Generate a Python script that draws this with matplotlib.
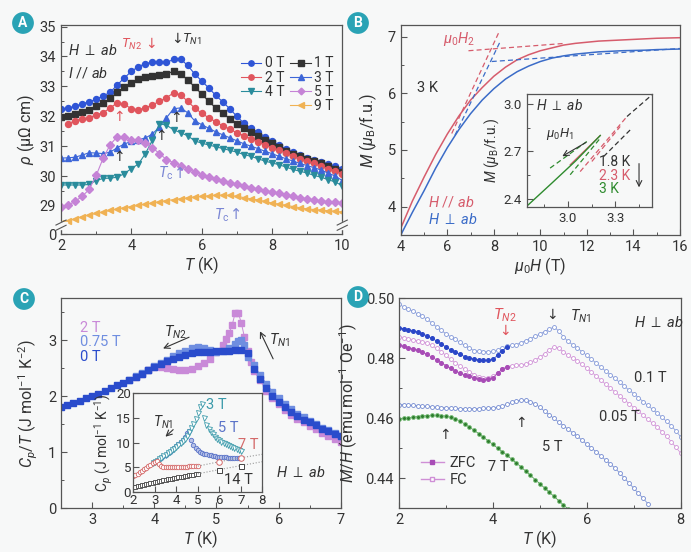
import matplotlib
matplotlib.use("Agg")
import matplotlib.pyplot as plt
from matplotlib.lines import Line2D

plt.rcParams['font.family'] = ['Roboto', 'DejaVu Sans']
plt.rcParams['mathtext.fontset'] = 'custom'
plt.rcParams['mathtext.rm'] = 'Roboto'
plt.rcParams['mathtext.it'] = 'Roboto:italic'
plt.rcParams['mathtext.bf'] = 'Roboto:bold'
plt.rcParams['axes.unicode_minus'] = False

# ---------------- Panel A data ----------------
TA = [2.0, 2.2, 2.4, 2.6, 2.8, 3.0, 3.2, 3.4, 3.6, 3.8, 4.0, 4.2, 4.4, 4.6, 4.8, 5.0, 5.2, 5.4, 5.6, 5.8,
      6.0, 6.2, 6.4, 6.6, 6.8, 7.0, 7.2, 7.4, 7.6, 7.8, 8.0, 8.2, 8.4, 8.6, 8.8, 9.0, 9.2, 9.4, 9.6, 9.8, 10.0]
rho_0T = [32.24, 32.28, 32.33, 32.42, 32.48, 32.57, 32.68, 32.80, 33.05, 33.28, 33.50, 33.66, 33.76, 33.81,
          33.80, 33.80, 33.90, 33.92, 33.70, 33.42, 33.18, 32.95, 32.70, 32.48, 32.25, 32.00, 31.77, 31.60,
          31.47, 31.32, 31.18, 31.04, 30.90, 30.80, 30.70, 30.62, 30.55, 30.48, 30.40, 30.32, 30.25]
rho_1T = [31.97, 32.00, 32.06, 32.14, 32.22, 32.33, 32.45, 32.60, 32.80, 32.98, 33.12, 33.24, 33.30, 33.33,
          33.37, 33.42, 33.50, 33.42, 33.22, 32.98, 32.75, 32.50, 32.28, 32.10, 31.92, 31.75, 31.60, 31.47,
          31.35, 31.22, 31.10, 30.98, 30.85, 30.75, 30.66, 30.58, 30.50, 30.42, 30.34, 30.25, 30.12]
rho_2T = [31.75, 31.85, 31.92, 31.95, 32.05, 32.12, 32.28, 32.45, 32.40, 32.25, 32.22, 32.28, 32.38, 32.50,
          32.62, 32.78, 32.72, 32.50, 32.28, 32.10, 31.95, 31.82, 31.68, 31.57, 31.45, 31.35, 31.25, 31.15,
          31.05, 30.95, 30.86, 30.78, 30.68, 30.58, 30.50, 30.42, 30.33, 30.25, 30.18, 30.08]
rho_3T = [30.60, 30.61, 30.63, 30.70, 30.78, 30.77, 30.75, 30.80, 30.95, 31.07, 31.16, 31.22, 31.27, 31.41,
          31.64, 31.95, 32.25, 32.28, 32.12, 31.85, 31.72, 31.60, 31.48, 31.38, 31.28, 31.18, 31.08, 31.00,
          30.92, 30.83, 30.75, 30.66, 30.58, 30.50, 30.42, 30.35, 30.28, 30.20, 30.10, 30.00, 29.85]
rho_4T = [29.70, 29.70, 29.70, 29.70, 29.72, 29.85, 29.92, 29.93, 29.96, 30.08, 30.25, 30.40, 30.75, 31.20,
          31.75, 31.70, 31.55, 31.45, 31.35, 31.18, 31.10, 31.04, 30.98, 30.92, 30.86, 30.80, 30.72, 30.66,
          30.58, 30.50, 30.44, 30.38, 30.30, 30.22, 30.16, 30.10, 30.02, 29.96, 29.88, 29.80, 29.68]
rho_5T = [28.97, 29.03, 29.15, 29.32, 29.55, 30.02, 30.60, 31.05, 31.32, 31.30, 31.20, 31.19, 31.10, 30.95,
          30.75, 30.55, 30.45, 30.35, 30.25, 30.14, 30.05, 29.98, 29.90, 29.84, 29.78, 29.72, 29.66, 29.60,
          29.55, 29.50, 29.45, 29.42, 29.38, 29.33, 29.28, 29.24, 29.20, 29.17, 29.14, 29.12, 29.10]
rho_9T = [28.42, 28.50, 28.57, 28.64, 28.70, 28.75, 28.80, 28.85, 28.90, 28.94, 28.98, 29.02, 29.06, 29.10,
          29.14, 29.18, 29.21, 29.24, 29.27, 29.30, 29.32, 29.34, 29.36, 29.36, 29.35, 29.32, 29.28, 29.24,
          29.20, 29.15, 29.10, 29.06, 29.02, 28.98, 28.94, 28.90, 28.88, 28.86, 28.84, 28.82, 28.80]
A_labels = ['0 T', '1 T', '2 T', '3 T', '4 T', '5 T', '9 T']
A_yticklabels = ['0', '29', '30', '31', '32', '33', '34', '35']

# ---------------- Panel B data ----------------
HB = [4.0, 4.5, 5.0, 5.5, 6.0, 6.5, 7.0, 7.5, 8.0, 8.5, 9.0, 9.5, 10.0, 10.5, 11.0, 11.5, 12.0, 12.5,
      13.0, 13.5, 14.0, 14.5, 15.0, 15.5, 16.0]
M_par = [3.62, 4.10, 4.52, 4.92, 5.28, 5.60, 5.88, 6.10, 6.30, 6.46, 6.59, 6.68, 6.75, 6.80, 6.85, 6.88,
         6.90, 6.92, 6.93, 6.94, 6.95, 6.96, 6.97, 6.975, 6.98]
M_perp = [3.50, 3.90, 4.28, 4.68, 5.04, 5.36, 5.64, 5.88, 6.08, 6.25, 6.38, 6.48, 6.56, 6.62, 6.66, 6.69,
          6.71, 6.73, 6.74, 6.75, 6.755, 6.76, 6.77, 6.775, 6.78]
# guide lines (dashed)
par_steep_H = [6.19, 8.2];  par_steep_M = [5.29, 7.06]
par_flat_H = [6.91, 11.06]; par_flat_M = [6.75, 6.88]
perp_steep_H = [6.33, 8.27]; perp_steep_M = [5.26, 6.91]
perp_flat_H = [7.91, 16.0];  perp_flat_M = [6.56, 6.79]
# inset hysteresis segments
k18_a_H = [3.374, 3.532]; k18_a_M = [2.92, 3.057]
k18_b_H = [3.226, 3.395]; k18_b_M = [2.667, 2.836]
k23_a_H = [3.015, 3.205]; k23_a_M = [2.615, 2.80]
k23_b_H = [3.078, 3.374]; k23_b_M = [2.572, 2.92]
k23_c_H = [3.152, 3.331]; k23_c_M = [2.636, 2.857]
k3_s_H = [2.75, 2.90, 3.05, 3.205]; k3_s_M = [2.362, 2.50, 2.64, 2.80]
k3_a_H = [2.888, 3.12]; k3_a_M = [2.594, 2.762]
k3_b_H = [3.015, 3.205]; k3_b_M = [2.552, 2.783]

# ---------------- Panel C data ----------------
TC0 = [2.5, 2.6, 2.7, 2.8, 2.9, 3.0, 3.1, 3.2, 3.3, 3.4, 3.5, 3.6, 3.7, 3.8, 3.9, 4.0, 4.1, 4.2, 4.3, 4.4,
       4.5, 4.6, 4.7, 4.8, 4.9, 5.0, 5.1, 5.2, 5.3, 5.4, 5.5, 5.6, 5.7, 5.8, 5.9, 6.0, 6.1, 6.2, 6.3, 6.4,
       6.5, 6.6, 6.7, 6.8, 6.9, 7.0]
C_0T = [1.80, 1.84, 1.88, 1.92, 1.96, 2.00, 2.04, 2.09, 2.14, 2.19, 2.24, 2.29, 2.34, 2.40, 2.46, 2.52,
        2.57, 2.62, 2.66, 2.70, 2.73, 2.76, 2.78, 2.79, 2.79, 2.80, 2.80, 2.81, 2.82, 2.83, 2.76, 2.48,
        2.30, 2.15, 2.01, 1.90, 1.80, 1.72, 1.65, 1.58, 1.53, 1.48, 1.42, 1.37, 1.32, 1.28]
TC1 = [3.6, 3.7, 3.8, 3.9, 4.0, 4.1, 4.2, 4.3, 4.4, 4.5, 4.6, 4.7, 4.8, 4.9, 5.0, 5.1, 5.2, 5.3, 5.35,
       5.4, 5.45, 5.5, 5.6, 5.7, 5.8, 5.9, 6.0, 6.1, 6.2, 6.3, 6.4, 6.5, 6.6, 6.7, 6.8, 6.9, 7.0]
C_075T = [2.29, 2.35, 2.41, 2.47, 2.53, 2.59, 2.65, 2.71, 2.76, 2.81, 2.85, 2.87, 2.86, 2.82, 2.79, 2.80,
          2.85, 2.93, 2.98, 3.00, 2.92, 2.70, 2.55, 2.38, 2.22, 2.08, 1.96, 1.86, 1.77, 1.69, 1.62, 1.56,
          1.50, 1.44, 1.39, 1.34, 1.29]
TC2 = [3.7, 3.8, 3.9, 4.0, 4.1, 4.2, 4.3, 4.4, 4.5, 4.6, 4.7, 4.8, 4.9, 5.0, 5.1, 5.15, 5.2, 5.25, 5.3,
       5.35, 5.4, 5.45, 5.5, 5.55, 5.6, 5.7, 5.8, 5.9, 6.0, 6.1, 6.2, 6.3, 6.4, 6.5, 6.6, 6.7, 6.8, 6.9, 7.0]
C_2T = [2.34, 2.40, 2.46, 2.52, 2.52, 2.50, 2.48, 2.47, 2.47, 2.49, 2.53, 2.59, 2.67, 2.78, 2.92, 3.02,
        3.12, 3.26, 3.48, 3.49, 3.30, 3.05, 2.80, 2.60, 2.45, 2.28, 2.10, 1.97, 1.86, 1.76, 1.67, 1.60,
        1.53, 1.47, 1.41, 1.35, 1.29, 1.23, 1.18]
# inset C
TI = [2.0, 2.1, 2.2, 2.3, 2.4, 2.5, 2.6, 2.7, 2.8, 2.9, 3.0, 3.1, 3.2, 3.3, 3.4, 3.5, 3.6, 3.7, 3.8, 3.9,
      4.0, 4.1, 4.2, 4.3, 4.4, 4.5, 4.6, 4.7, 4.8, 4.9, 5.0, 5.1, 5.2, 5.3, 5.4, 5.5, 5.6, 5.7, 5.8, 5.9,
      6.0, 6.1, 6.2, 6.3, 6.4, 6.5, 6.6, 6.7, 6.8, 6.9, 7.0]
Cp_3T = [5.8, 6.0, 6.3, 6.6, 6.9, 7.2, 7.5, 7.8, 8.1, 8.4, 8.7, 9.0, 9.4, 9.8, 10.3, 10.8, 11.4, 12.1,
         12.9, 13.8, 14.8, 16.0, 17.3, 17.9, 15.0, 13.6, 12.8, 12.2, 11.7, 11.2, 10.8, 10.5, 10.2, 9.9,
         9.7, 9.5, 9.3, 9.1, 8.9, 8.7, 8.5, 8.3]
Cp_5T = [5.8, 6.0, 6.3, 6.6, 6.9, 7.2, 7.5, 7.8, 8.1, 8.4, 8.8, 9.2, 9.6, 10.1, 10.6, 11.2, 11.9, 12.4,
         10.5, 9.4, 8.8, 8.4, 8.1, 7.9, 7.7, 7.6, 7.5, 7.4, 7.3, 7.2, 7.15, 7.1, 7.05, 7.0, 7.0, 6.95,
         6.95, 6.9, 6.9, 6.9, 6.9, 6.9]
Cp_7T = [3.1, 3.4, 3.7, 4.0, 4.3, 4.6, 4.9, 5.2, 5.5, 5.8, 6.1, 6.3, 5.6, 5.3, 5.1, 5.0, 5.0, 5.0, 5.0,
         5.0, 5.0, 5.05, 5.05, 5.1, 5.1, 5.1, 5.15, 5.15, 5.2, 5.2, 5.2]
Cp_14T = [0.90, 1.00, 1.10, 1.20, 1.30, 1.40, 1.50, 1.60, 1.70, 1.80, 1.90, 2.00, 2.10, 2.20, 2.30, 2.40,
          2.50, 2.60, 2.68, 2.76, 2.84, 2.92, 3.00, 3.08, 3.16, 3.24, 3.32, 3.40, 3.48, 3.56, 3.64]
T_sparse = [5.0, 6.0, 7.0, 8.0]
Cp_7T_sparse = [5.2, 6.1, 6.9, 7.6]
Cp_14T_sparse = [3.64, 4.5, 5.3, 6.1]

# ---------------- Panel D data ----------------
TD = [2.0, 2.1, 2.2, 2.3, 2.4, 2.5, 2.6, 2.7, 2.8, 2.9, 3.0, 3.1, 3.2, 3.3, 3.4, 3.5, 3.6, 3.7, 3.8, 3.9,
      4.0, 4.1, 4.2, 4.3, 4.4, 4.5, 4.6, 4.7, 4.8, 4.9, 5.0, 5.1, 5.2, 5.3, 5.4, 5.5, 5.6, 5.7, 5.8, 5.9,
      6.0, 6.1, 6.2, 6.3, 6.4, 6.5, 6.6, 6.7, 6.8, 6.9, 7.0, 7.1, 7.2, 7.3, 7.4, 7.5, 7.6, 7.7, 7.8, 7.9, 8.0]
fc_01 = [0.4980, 0.4972, 0.4965, 0.4957, 0.4948, 0.4940, 0.4930, 0.4918, 0.4905, 0.4893,
         0.4882, 0.4872, 0.4863, 0.4853, 0.4843, 0.4833, 0.4826, 0.4823, 0.4822, 0.4822,
         0.4823, 0.4827, 0.4835, 0.4840, 0.4843, 0.4846, 0.4852, 0.4859, 0.4866, 0.4873,
         0.4881, 0.4889, 0.4898, 0.4904, 0.4892, 0.4872, 0.4857, 0.4845, 0.4834, 0.4822,
         0.4810, 0.4797, 0.4784, 0.4771, 0.4758, 0.4746, 0.4733, 0.4720, 0.4707, 0.4694,
         0.4682, 0.4669, 0.4656, 0.4643, 0.4630, 0.4617, 0.4604, 0.4590, 0.4575, 0.4558, 0.4538]
zfc_01 = [0.4902, 0.4899, 0.4896, 0.4892, 0.4888, 0.4882, 0.4875, 0.4867, 0.4858, 0.4848,
          0.4838, 0.4828, 0.4820, 0.4813, 0.4806, 0.4801, 0.4797, 0.4795, 0.4793, 0.4793,
          0.4797, 0.4810, 0.4826, 0.4837]
fc_005 = [0.4872, 0.4869, 0.4866, 0.4862, 0.4858, 0.4856, 0.4851, 0.4843, 0.4833, 0.4822,
          0.4810, 0.4797, 0.4785, 0.4774, 0.4764, 0.4755, 0.4746, 0.4739, 0.4736, 0.4736,
          0.4740, 0.4752, 0.4764, 0.4772, 0.4776, 0.4777, 0.4778, 0.4780, 0.4787, 0.4795,
          0.4804, 0.4815, 0.4828, 0.4838, 0.4834, 0.4822, 0.4810, 0.4800, 0.4792, 0.4780,
          0.4767, 0.4754, 0.4741, 0.4728, 0.4714, 0.4701, 0.4688, 0.4675, 0.4662, 0.4649,
          0.4636, 0.4623, 0.4610, 0.4597, 0.4584, 0.4571, 0.4556, 0.4540, 0.4522, 0.4503, 0.4484]
zfc_005 = [0.4844, 0.4840, 0.4836, 0.4832, 0.4827, 0.4821, 0.4813, 0.4804, 0.4795, 0.4786,
           0.4776, 0.4767, 0.4758, 0.4751, 0.4745, 0.4740, 0.4735, 0.4731, 0.4729, 0.4730,
           0.4735, 0.4750, 0.4764, 0.4771]
m_5T = [0.4646, 0.4645, 0.4644, 0.4643, 0.4642, 0.4641, 0.4640, 0.4639, 0.4637, 0.4636,
        0.4635, 0.4634, 0.4633, 0.4632, 0.4632, 0.4632, 0.4632, 0.4632, 0.4633, 0.4634,
        0.4635, 0.4637, 0.4641, 0.4647, 0.4653, 0.4658, 0.4661, 0.4660, 0.4656, 0.4648,
        0.4637, 0.4624, 0.4612, 0.4600, 0.4588, 0.4576, 0.4564, 0.4552, 0.4540, 0.4527,
        0.4514, 0.4501, 0.4488, 0.4475, 0.4461, 0.4448, 0.4434, 0.4418, 0.4401, 0.4384,
        0.4367, 0.4350, 0.4333, 0.4316]
m_7T = [0.4597, 0.4600, 0.4602, 0.4604, 0.4606, 0.4608, 0.4609, 0.4610, 0.4610, 0.4609,
        0.4607, 0.4604, 0.4599, 0.4591, 0.4581, 0.4571, 0.4560, 0.4549, 0.4537, 0.4525,
        0.4513, 0.4501, 0.4489, 0.4477, 0.4464, 0.4451, 0.4438, 0.4424, 0.4410, 0.4396,
        0.4382, 0.4368, 0.4354, 0.4340, 0.4326, 0.4312, 0.4298]

# ---------------- styling helpers ----------------
BG = '#f7f8f8'
SP = '#555555'
TXT = '#333333'
ARW = 'DejaVu Sans'


def style(ax, fs=10.5):
    for s in ax.spines.values():
        s.set_color(SP)
        s.set_linewidth(0.9)
    ax.tick_params(which='major', direction='in', length=4, width=0.8, colors=SP,
                   labelcolor=TXT, labelsize=fs, top=False, right=False)
    ax.tick_params(which='minor', direction='in', length=2.2, width=0.7, colors=SP,
                   top=False, right=False)
    ax.set_facecolor(BG)


fig = plt.figure(figsize=(6.91, 5.52), dpi=100, facecolor=BG)

# ================= Panel A =================
axA = fig.add_axes([0.0883, 0.576, 0.407, 0.3786])
style(axA)
colsA = ['#2f55d6', '#333333', '#e0555d', '#3d66d8', '#2a8c9c', '#c583d6', '#f0b254']
mks = ['o', 's', 'o', '^', 'v', 'D', '<']
series = [(TA, rho_0T), (TA, rho_1T), (TA[1:], rho_2T), (TA, rho_3T), (TA, rho_4T), (TA, rho_5T), (TA, rho_9T)]
handles = []
for (x, y), c, m, lab in zip(series, colsA, mks, A_labels):
    ms = 4.3 if m != 'D' else 3.8
    h, = axA.plot(x, y, color=c, marker=m, ms=ms, lw=0.8, mec=c, mfc=c, label=lab)
    handles.append(h)
axA.set_xlim(2, 10)
axA.set_ylim(28.06, 35.05)
axA.set_xticks([2, 4, 6, 8, 10])
axA.set_xticks([3, 5, 7, 9], minor=True)
axA.set_yticks([28.06, 29, 30, 31, 32, 33, 34, 35])
axA.set_yticklabels(A_yticklabels)
axA.set_yticks([28.5, 29.5, 30.5, 31.5, 32.5, 33.5, 34.5], minor=True)
axA.set_xlabel(r'$T$ (K)', fontsize=11.5, color=TXT, labelpad=1)
axA.set_ylabel(r'$\rho$ (μΩ cm)', fontsize=11.5, color=TXT, labelpad=2)
blank = Line2D([], [], color='none')
order = [handles[0], handles[2], handles[4], blank, handles[1], handles[3], handles[5], handles[6]]
labs = ['0 T', '2 T', '4 T', '', '1 T', '3 T', '5 T', '9 T']
axA.legend(order, labs, ncol=2, loc='upper right', bbox_to_anchor=(1.0, 0.89), frameon=False,
           fontsize=10, handlelength=1.5, columnspacing=0.4, labelspacing=0.02, handletextpad=0.25,
           borderaxespad=0.2, labelcolor=TXT, markerscale=0.9)
axA.text(2.2, 34.05, r'$H$ $\perp$ $ab$', fontsize=10.5, color=TXT)
axA.text(2.2, 33.3, r'$I$ // $ab$', fontsize=10.5, color=TXT)
axA.text(3.72, 34.3, r'$T_{N2}$', fontsize=9.5, color='#e0555d')
axA.text(4.38, 34.3, '↓', fontsize=10, color='#e0555d', family=ARW)
axA.text(5.12, 34.45, '↓', fontsize=10, color=TXT, family=ARW)
axA.text(5.45, 34.45, r'$T_{N1}$', fontsize=9.5, color=TXT)
for (x, y, c) in [(3.65, 31.85, '#e0555d'), (5.28, 31.8, TXT), (4.85, 31.2, TXT), (3.65, 30.5, TXT)]:
    axA.text(x, y, '↑', fontsize=10, color=c, ha='center', family=ARW)
axA.text(4.75, 29.95, r'$T_{\rm c}$', fontsize=10.5, color='#7a86d4')
axA.text(5.2, 29.95, '↑', fontsize=10.5, color='#7a86d4', family=ARW)
axA.text(6.35, 28.55, r'$T_{\rm c}$', fontsize=10.5, color='#7a86d4')
axA.text(6.8, 28.55, '↑', fontsize=10.5, color='#7a86d4', family=ARW)
# axis break marks
for xb in (0, 1):
    axA.add_patch(plt.Rectangle((xb - 0.02, 0.025), 0.04, 0.035, transform=axA.transAxes,
                                color=BG, clip_on=False, zorder=5))
    for yb in (0.03, 0.055):
        axA.plot([xb - 0.018, xb + 0.018], [yb - 0.012, yb + 0.012], transform=axA.transAxes,
                 color=SP, lw=0.8, clip_on=False, zorder=6)

# ================= Panel B =================
axB = fig.add_axes([0.580, 0.5743, 0.404, 0.380])
style(axB)
cpar, cperp = '#d65c6c', '#3b6cc8'
axB.plot(HB, M_par, color=cpar, lw=1.1)
axB.plot(HB, M_perp, color=cperp, lw=1.1)
for hx, my, c in [(par_steep_H, par_steep_M, cpar), (par_flat_H, par_flat_M, cpar),
                  (perp_steep_H, perp_steep_M, cperp), (perp_flat_H, perp_flat_M, cperp)]:
    axB.plot(hx, my, color=c, lw=0.9, ls=(0, (4, 2.5)))
axB.set_xlim(4, 16)
axB.set_ylim(3.5, 7.2)
axB.set_xticks([4, 6, 8, 10, 12, 14, 16])
axB.set_xticks([5, 7, 9, 11, 13, 15], minor=True)
axB.set_yticks([4, 5, 6, 7])
axB.set_yticks([4.5, 5.5, 6.5], minor=True)
axB.set_xlabel(r'$\mu_0H$ (T)', fontsize=11.5, color=TXT, labelpad=1)
axB.set_ylabel(r'$M$ ($\mu_{\rm B}$/f.u.)', fontsize=11.5, color=TXT, labelpad=6)
axB.text(5.8, 6.88, r'$\mu_0H_2$', fontsize=10.5, color=cpar)
axB.text(4.7, 6.02, '3 K', fontsize=10.5, color=TXT)
axB.text(5.15, 4.0, r'$H$ // $ab$', fontsize=10.5, color=cpar)
axB.text(5.15, 3.7, r'$H$ $\perp$ $ab$', fontsize=10.5, color=cperp)

axBi = fig.add_axes([0.7622, 0.6255, 0.1809, 0.2036])
style(axBi, fs=9.5)
axBi.plot(k18_a_H, k18_a_M, color='#333333', lw=0.9, ls=(0, (4, 2.5)))
axBi.plot(k18_b_H, k18_b_M, color='#333333', lw=0.9, ls=(0, (4, 2.5)))
axBi.plot(k23_a_H, k23_a_M, color=cpar, lw=0.9)
axBi.plot(k23_b_H, k23_b_M, color=cpar, lw=0.9, ls=(0, (4, 2.5)))
axBi.plot(k23_c_H, k23_c_M, color=cpar, lw=0.9, ls=(0, (4, 2.5)))
axBi.plot(k3_s_H, k3_s_M, color='#2e8b2e', lw=1.0)
axBi.plot(k3_a_H, k3_a_M, color='#2e8b2e', lw=0.9, ls=(0, (4, 2.5)))
axBi.plot(k3_b_H, k3_b_M, color='#2e8b2e', lw=0.9, ls=(0, (4, 2.5)))
axBi.set_xlim(2.74, 3.53)
axBi.set_ylim(2.35, 3.06)
axBi.set_xticks([3.0, 3.3])
axBi.set_xticks([2.85, 3.15, 3.45], minor=True)
axBi.set_yticks([2.4, 2.7, 3.0])
axBi.set_yticks([2.55, 2.85], minor=True)
axBi.set_ylabel(r'$M$ ($\mu_{\rm B}$/f.u.)', fontsize=10, color=TXT, labelpad=2)
axBi.text(2.8, 2.96, r'$H$ $\perp$ $ab$', fontsize=10, color=TXT)
axBi.text(2.86, 2.79, r'$\mu_0H_1$', fontsize=9.5, color=TXT)
axBi.annotate('', xy=(2.95, 2.66), xytext=(3.13, 2.765),
              arrowprops=dict(arrowstyle='->', color='#333333', lw=0.8))
axBi.text(3.2, 2.605, '1.8 K', fontsize=10, color=TXT)
axBi.text(3.2, 2.52, '2.3 K', fontsize=10, color=cpar)
axBi.text(3.2, 2.435, '3 K', fontsize=10, color='#2e8b2e')
axBi.annotate('', xy=(3.45, 2.455), xytext=(3.45, 2.64),
              arrowprops=dict(arrowstyle='->', color='#333333', lw=0.8))

# ================= Panel C =================
axC = fig.add_axes([0.0883, 0.0792, 0.405, 0.381])
style(axC)
c0, c075, c2 = '#2a4ccc', '#6f8ee0', '#c98ad8'
axC.plot(TC2, C_2T, color=c2, marker='s', ms=3.8, lw=0.7, ls='-', mec=c2, mfc=c2)
axC.plot(TC1, C_075T, color=c075, marker='s', ms=3.8, lw=0.7, mec=c075, mfc=c075)
axC.plot(TC0, C_0T, color=c0, marker='s', ms=3.8, lw=0, mec=c0, mfc=c0)
axC.set_xlim(2.5, 7)
axC.set_ylim(0, 3.75)
axC.set_xticks([3, 4, 5, 6, 7])
axC.set_xticks([3.5, 4.5, 5.5, 6.5], minor=True)
axC.set_yticks([0, 1, 2, 3])
axC.set_yticks([0.5, 1.5, 2.5, 3.5], minor=True)
axC.set_xlabel(r'$T$ (K)', fontsize=11.5, color=TXT, labelpad=1)
axC.set_ylabel(r'$C_p$/$T$ (J mol$^{-1}$ K$^{-2}$)', fontsize=11.5, color=TXT, labelpad=6)
axC.text(2.8, 3.15, '2 T', fontsize=10.5, color=c2)
axC.text(2.8, 2.9, '0.75 T', fontsize=10.5, color=c075)
axC.text(2.8, 2.62, '0 T', fontsize=10.5, color=c0)
axC.text(4.15, 3.07, r'$T_{N2}$', fontsize=10.5, color=TXT)
axC.annotate('', xy=(4.1, 2.83), xytext=(4.6, 3.07),
             arrowprops=dict(arrowstyle='->', color='#333333', lw=0.8))
axC.text(5.85, 2.92, r'$T_{N1}$', fontsize=10.5, color=TXT)
axC.annotate('', xy=(5.68, 3.2), xytext=(5.93, 2.62),
             arrowprops=dict(arrowstyle='->', color='#333333', lw=0.8))
axC.text(5.95, 0.55, r'$H$ $\perp$ $ab$', fontsize=10.5, color=TXT)

axCi = fig.add_axes([0.1929, 0.1092, 0.1867, 0.1783])
style(axCi, fs=9.5)
c3, c5, c7, c14 = '#3b9aaa', '#5c74c8', '#d46a6a', '#444444'
axCi.plot(TI[9:], Cp_5T, color=c5, marker='o', ms=3.2, lw=0, mec=c5, mfc='#b8c3e8', mew=0.6)
axCi.plot(TI[9:], Cp_3T, color=c3, marker='v', ms=3.6, lw=0, mec=c3, mfc='white', mew=0.6)
axCi.plot(TI[:31], Cp_7T, color=c7, marker='o', ms=3.2, lw=0, mec=c7, mfc='white', mew=0.6)
axCi.plot(TI[:31], Cp_14T, color=c14, marker='s', ms=3.0, lw=0, mec=c14, mfc='white', mew=0.6)
axCi.plot(T_sparse, Cp_7T_sparse, color='#999999', lw=0.8, ls=':')
axCi.plot(T_sparse, Cp_14T_sparse, color='#999999', lw=0.8, ls=':')
axCi.plot(T_sparse[1:3], Cp_7T_sparse[1:3], lw=0, marker='o', ms=4, mec=c7, mfc='white', mew=0.7)
axCi.plot(T_sparse[1:3], Cp_14T_sparse[1:3], lw=0, marker='s', ms=3.6, mec=c14, mfc='white', mew=0.7)
axCi.set_xlim(2, 8)
axCi.set_ylim(0, 20)
axCi.set_xticks([2, 3, 4, 5, 6, 7, 8])
axCi.set_yticks([0, 5, 10, 15, 20])
axCi.tick_params(pad=1.5)
axCi.set_ylabel(r'C$_p$ (J mol$^{-1}$ K$^{-1}$)', fontsize=10, color=TXT, labelpad=1)
axCi.text(5.4, 16.8, '3 T', fontsize=10.5, color=c3)
axCi.text(5.95, 12.2, '5 T', fontsize=10.5, color=c5)
axCi.text(6.85, 8.6, '7 T', fontsize=10.5, color=c7)
axCi.text(6.2, 1.5, '14 T', fontsize=10.5, color=TXT)
axCi.text(2.9, 13.3, r'$T_{N1}$', fontsize=10, color=TXT)
axCi.annotate('', xy=(3.4, 10.8), xytext=(3.95, 13.0),
              arrowprops=dict(arrowstyle='->', color='#333333', lw=0.8))

# ================= Panel D =================
axD = fig.add_axes([0.5774, 0.0791, 0.4077, 0.3804])
style(axD)
cb_z, cb_f = '#2a46c8', '#8096d8'
cp_z, cp_f = '#a84cb6', '#cf8fd6'
axD.plot(TD, fc_01, color=cb_f, marker='o', ms=2.8, lw=0.5, mec=cb_f, mfc='white', mew=0.6)
axD.plot(TD[:24], zfc_01, color=cb_z, marker='o', ms=2.6, lw=0.5, mec=cb_z, mfc=cb_z)
axD.plot(TD, fc_005, color=cp_f, marker='o', ms=2.8, lw=0.5, mec=cp_f, mfc='white', mew=0.6)
axD.plot(TD[:24], zfc_005, color=cp_z, marker='o', ms=2.6, lw=0.5, mec=cp_z, mfc=cp_z)
axD.plot(TD[:54], m_5T, color='#7088d0', marker='o', ms=2.8, lw=0.5, mec='#7088d0', mfc='white', mew=0.6)
axD.plot(TD[:37], m_7T, color='#3a8f3a', marker='o', ms=2.8, lw=0.5, mec='#7cc07c', mfc='#2e7d2e', mew=0.6)
axD.set_xlim(2, 8)
axD.set_ylim(0.43, 0.50)
axD.set_xticks([2, 4, 6, 8])
axD.set_xticks([3, 5, 7], minor=True)
axD.set_yticks([0.44, 0.46, 0.48, 0.50])
axD.set_yticklabels(['0.44', '0.46', '0.48', '0.50'])
axD.set_yticks([0.45, 0.47, 0.49], minor=True)
axD.set_xlabel(r'$T$ (K)', fontsize=11.5, color=TXT, labelpad=1)
axD.set_ylabel(r'$M$/$H$ (emu mol$^{-1}$ Oe$^{-1}$)', fontsize=11.5, color=TXT, labelpad=4)
leg_z = Line2D([], [], color=cp_f, marker='s', ms=3, mfc=cp_z, mec=cp_z, lw=1)
leg_f = Line2D([], [], color=cp_f, marker='s', ms=3.5, mfc='white', mec=cp_f, lw=1)
axD.legend([leg_z, leg_f], ['ZFC', 'FC'], loc='lower left', bbox_to_anchor=(0.03, 0.04), frameon=False,
           fontsize=10.5, handlelength=1.6, labelspacing=0.2, handletextpad=0.4, labelcolor=TXT)
axD.text(5.25, 0.4933, '↓', fontsize=10, color=TXT, ha='center', family=ARW)
axD.text(5.65, 0.4925, r'$T_{N1}$', fontsize=10.5, color=TXT)
axD.text(4.25, 0.4929, r'$T_{N2}$', fontsize=11, color='#e0555d', ha='center')
axD.text(4.25, 0.4879, '↓', fontsize=10, color='#e0555d', ha='center', family=ARW)
axD.text(7.0, 0.4905, r'$H$ $\perp$ $ab$', fontsize=10.5, color=TXT)
axD.text(7.0, 0.4722, '0.1 T', fontsize=10.5, color=TXT)
axD.text(6.25, 0.4590, '0.05 T', fontsize=10.5, color=TXT)
axD.text(5.05, 0.4490, '5 T', fontsize=10.5, color=TXT)
axD.text(3.9, 0.4425, '7 T', fontsize=10.5, color=TXT)
axD.text(4.6, 0.4572, '↑', fontsize=10, color=TXT, ha='center', family=ARW)
axD.text(2.97, 0.4530, '↑', fontsize=10, color=TXT, ha='center', family=ARW)

# ================= Panel badges =================
for lab, (px, py) in zip(['A', 'B', 'C', 'D'], [(23, 23), (358, 23), (24, 299), (358, 297)]):
    fig.text(px / 691, 1 - py / 552, lab, ha='center', va='center', color='white', fontsize=10,
             fontweight='bold',
             bbox=dict(boxstyle='circle,pad=0.28', fc='#2aa3b5', ec='none'))

fig.savefig('out.png', dpi=100, facecolor=BG)
